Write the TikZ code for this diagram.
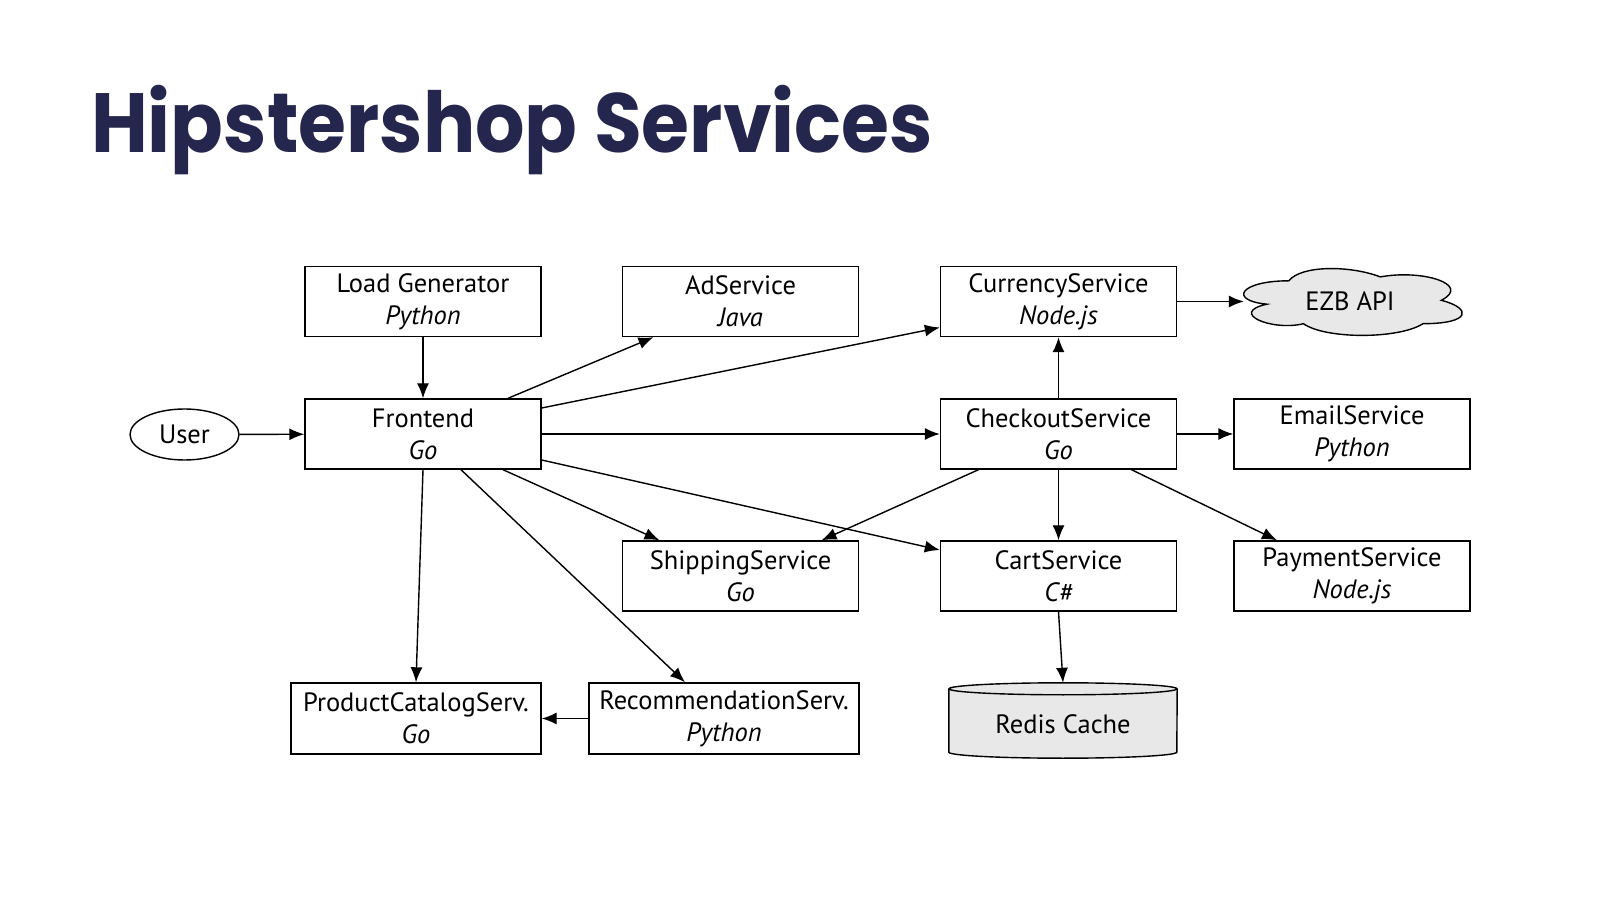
\documentclass[tikz,border=0pt]{standalone}
\usepackage{fontspec}
\setmainfont{PT Sans}
\newfontfamily\titlefont{Poppins}[UprightFont=* Bold]
\usetikzlibrary{arrows.meta,shapes.geometric}
\definecolor{titleblue}{HTML}{25264E}
\definecolor{fillgray}{HTML}{E8E8E8}
\begin{document}
\begin{tikzpicture}[x=1pt,y=1pt,
  svc/.style={draw,line width=1.4pt,minimum width=236pt,minimum height=70pt,align=center,
    font=\fontsize{26.5}{32}\selectfont,inner sep=0pt},
  conn/.style={line width=1.4pt,-{Latex[length=15pt,width=12pt]}},
  lbl/.style={font=\fontsize{26.5}{32}\selectfont}]
\useasboundingbox (0,0) rectangle (1600,900);
\node[anchor=base west,text=titleblue,inner sep=0pt,font=\titlefont\fontsize{84}{90}\selectfont] (title) at (91,747) {\scalebox{0.925}[1]{Hipstershop Services}};

\node[svc] (lg) at (423,598.5) {Load Generator\\\textit{Python}};
\node[svc] (ad) at (740.5,598.5) {AdService\\\textit{Java}};
\node[svc] (cur) at (1058.5,598.5) {CurrencyService\\\textit{Node.js}};

% EZB cloud (draw.io style cloud)
\node[minimum width=244pt,minimum height=78pt,inner sep=0pt] (ezb) at (1350,599.5) {};
\draw[line width=1.4pt,fill=fillgray,shift={(ezb.north west)},x=244pt,y=-78pt]
  (0.25,0.25) .. controls (0.05,0.25) and (0,0.5) .. (0.16,0.55)
  .. controls (0,0.66) and (0.18,0.9) .. (0.31,0.8)
  .. controls (0.4,1) and (0.7,1) .. (0.8,0.8)
  .. controls (1,0.8) and (1,0.6) .. (0.875,0.5)
  .. controls (1,0.3) and (0.8,0.1) .. (0.625,0.2)
  .. controls (0.5,0.05) and (0.3,0.05) .. (0.25,0.25) -- cycle;
\node[lbl] (ezbtext) at ([yshift=-1pt]ezb.center) {EZB API};
\coordinate (ezbin) at ([xshift=16pt]ezb.west |- cur.east);

\node[ellipse,draw,line width=1.4pt,minimum width=109pt,minimum height=51pt,inner sep=0pt,lbl] (user) at (184.5,465.5) {User};
\node[svc] (fe) at (423,466) {Frontend\\\textit{Go}};
\node[svc] (co) at (1058.5,466) {CheckoutService\\\textit{Go}};
\node[svc] (em) at (1352,466) {EmailService\\\textit{Python}};
\node[svc] (sh) at (740.5,324) {ShippingService\\\textit{Go}};
\node[svc] (ca) at (1058.5,324) {CartService\\\textit{C\#}};
\node[svc] (pa) at (1352,324) {PaymentService\\\textit{Node.js}};
\node[svc,minimum width=250pt,minimum height=71pt] (pc) at (416,181.5) {ProductCatalogServ.\\\textit{Go}};
\node[svc,minimum width=270pt,minimum height=71pt] (rec) at (724,181.5) {RecommendationServ.\\\textit{Python}};

% Redis cylinder
\node[minimum width=228pt,minimum height=75pt,inner sep=0pt] (redis) at (1063,179.5) {};
\fill[fillgray] ([yshift=-6pt]redis.north west) -- ([yshift=6pt]redis.south west)
  arc[start angle=180,end angle=360,x radius=114pt,y radius=6pt]
  -- ([yshift=-6pt]redis.north east) -- cycle;
\draw[line width=1.4pt] ([yshift=-6pt]redis.north west) -- ([yshift=6pt]redis.south west)
  arc[start angle=180,end angle=360,x radius=114pt,y radius=6pt]
  -- ([yshift=-6pt]redis.north east);
\draw[line width=1.4pt,fill=fillgray] ([yshift=-6pt]redis.north) ellipse[x radius=114pt,y radius=6pt];
\node[lbl] at ([yshift=-4pt]redis.center) {Redis Cache};

\draw[conn] (lg) -- (fe);
\draw[conn] (user) -- (fe);
\draw[conn] ([xshift=85pt]fe.north) -- ([xshift=-87pt]ad.south);
\draw[conn] ([yshift=26pt]fe.east) -- ([yshift=-26pt]cur.west);
\draw[conn] (fe) -- (co);
\draw[conn] ([xshift=80pt]fe.south) -- ([xshift=-81pt]sh.north);
\draw[conn] ([yshift=-26pt]fe.east) -- ([yshift=26pt]ca.west);
\draw[conn] (fe.south) -- ([xshift=0pt]pc.north);
\draw[conn] ([xshift=38pt]fe.south) -- ([xshift=-39pt]rec.north);
\draw[conn] (rec) -- (pc);
\draw[conn] (co) -- (cur);
\draw[conn] (cur.east) -- (ezbin);
\draw[conn] (co) -- (em);
\draw[conn] ([xshift=-80pt]co.south) -- ([xshift=81pt]sh.north);
\draw[conn] (co) -- (ca);
\draw[conn] ([xshift=73pt]co.south) -- ([xshift=-75pt]pa.north);
\draw[conn] (ca.south) -- (redis.north);
\end{tikzpicture}
\end{document}
